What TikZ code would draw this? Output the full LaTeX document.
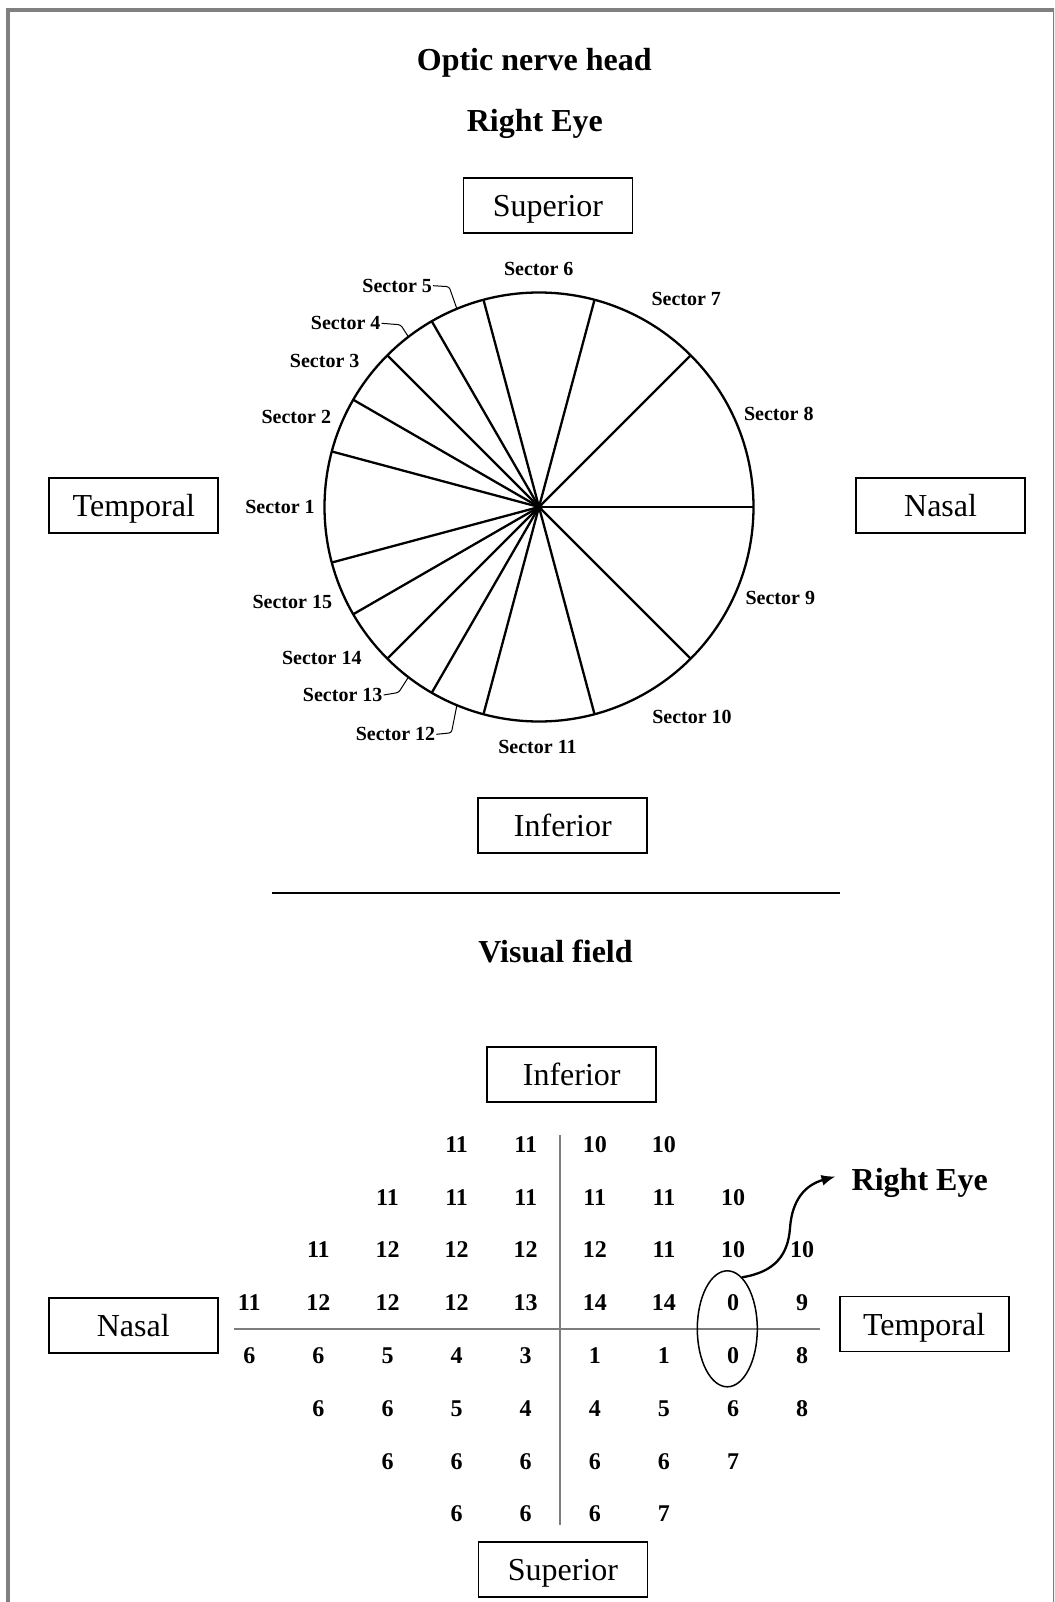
\documentclass[tikz,border=0pt]{standalone}
\usepackage{fontspec}
\setmainfont{Liberation Serif}
\usetikzlibrary{shapes.geometric,arrows.meta,calc}
\definecolor{framegray}{RGB}{128,128,128}
\definecolor{gridgray}{RGB}{125,125,125}
\begin{document}
\begin{tikzpicture}[x=1pt,y=-1pt,
  box/.style={draw=black, line width=1.8pt, minimum width=169pt, minimum height=55pt,
    inner sep=0pt, text height=22pt, text depth=0pt, font=\fontsize{32}{36}\selectfont},
  ttl/.style={font=\fontsize{32}{36}\selectfont\bfseries, anchor=base, inner sep=0pt},
  seclab/.style={font=\fontsize{20}{24}\selectfont\bfseries, inner sep=1pt},
  num/.style={font=\fontsize{24}{28}\selectfont\bfseries, inner sep=0pt},
  leader/.style={line width=1pt, rounded corners=2.5pt},
  wheel/.style={line width=2.3pt},
  gridline/.style={draw=gridgray, line width=2pt}]
\useasboundingbox (0,0) rectangle (1054,1602);
\clip (0,0) rectangle (1054,1602);
\fill[white] (0,0) rectangle (1054,1602);
% frame
\draw[framegray, line width=4pt] (8,10.3) rectangle (1054.7,1625);

% titles
\node[ttl] (t1) at (534.2,70.7) {Optic nerve head};
\node[ttl] (t2) at (534.8,131.7) {Right Eye};

% boxes of optic nerve head
\node[box] (sup1) at (548,205.8) {Superior};
\node[box] (tem1) at (133.8,505.2) {Temporal};
\node[box] (nas1) at (940.6,505.2) {Nasal};
\node[box] (inf1) at (562.8,825.2) {Inferior};

% wheel
\coordinate (hub) at (539,507);
\draw[wheel] (hub) circle[radius=214.5pt];
\foreach \a in {0,45,75,105,120,135,150,165,195,210,225,240,255,285,315}
  \draw[wheel] (hub) -- ++({214.5*cos(\a)},{-214.5*sin(\a)});
\fill (hub) circle[radius=4pt];

% sector labels
\foreach \n/\x/\y in {1/280/507, 2/296.3/417.3, 3/324.7/360.7, 4/345.7/323.3,
    5/397.2/285.7, 6/538.7/269.3, 7/686.2/299.3, 8/778.8/414, 9/780.3/598.3,
    10/692/717.3, 11/537.5/746.7, 12/395.5/734.3, 13/342.7/695, 14/321.8/657.7,
    15/292.3/601.7}
  \node[seclab] (s\n) at (\x,\y) {Sector \n};

% leader lines
\coordinate (p5) at (456.9,308.8);
\coordinate (p4) at (408.4,336.8);
\coordinate (p13) at (408.4,677.2);
\coordinate (p12) at (456.9,705.2);
\draw[leader] (s5.east) -- ++(16,1) -- (p5);
\draw[leader] (s4.east) -- ++(19,1.5) -- (p4);
\draw[leader] (s13.east) -- ++(15,-2.5) -- (p13);
\draw[leader] (s12.east) -- ++(15,-1.5) -- (p12);

% separator
\coordinate (sepL) at (271.7,892.6);
\coordinate (sepR) at (839.5,892.6);
\draw[line width=1.8pt] (sepL) -- (sepR);

% visual field
\node[ttl] (t3) at (555.5,962.6) {Visual field};
\node[box] (inf2) at (571.7,1074.8) {Inferior};
\node[box] (nas2) at (133.3,1325.5) {Nasal};
\node[box] (tem2) at (924.1,1324) {Temporal};
\node[box] (sup2) at (563,1569.2) {Superior};

% grid axes
\coordinate (vT) at (560,1135);
\coordinate (vB) at (560,1525);
\coordinate (hL) at (234,1329.3);
\coordinate (hR) at (820,1329.3);
\draw[gridline] (vT) -- (vB);
\draw[gridline] (hL) -- (hR);

% grid numbers
\foreach \r/\c/\v in {0/3/11,0/4/11,0/5/10,0/6/10,
  1/2/11,1/3/11,1/4/11,1/5/11,1/6/11,1/7/10,
  2/1/11,2/2/12,2/3/12,2/4/12,2/5/12,2/6/11,2/7/10,2/8/10,
  3/0/11,3/1/12,3/2/12,3/3/12,3/4/13,3/5/14,3/6/14,3/7/0,3/8/9,
  4/0/6,4/1/6,4/2/5,4/3/4,4/4/3,4/5/1,4/6/1,4/7/0,4/8/8,
  5/1/6,5/2/6,5/3/5,5/4/4,5/5/4,5/6/5,5/7/6,5/8/8,
  6/2/6,6/3/6,6/4/6,6/5/6,6/6/6,6/7/7,
  7/3/6,7/4/6,7/5/6,7/6/7}
  \node[num] (g\r-\c) at ({249.3+69.1*\c},{1144.3+52.83*\r}) {\v};

% ellipse and arrow
\node[draw, ellipse, line width=1.5pt, minimum width=60pt, minimum height=116pt, inner sep=0pt] (ell) at (727.3,1328.8) {};
\node[ttl] (re2) at (919.7,1190) {Right Eye};
\draw[line width=2.3pt, -{Latex[length=14pt,width=11pt]}] (ell.74)
  .. controls (775,1272) and (788,1255) .. (790,1228)
  .. controls (792,1200) and (805,1185) .. ([xshift=-16pt,yshift=6pt]re2.west);
\end{tikzpicture}
\end{document}
